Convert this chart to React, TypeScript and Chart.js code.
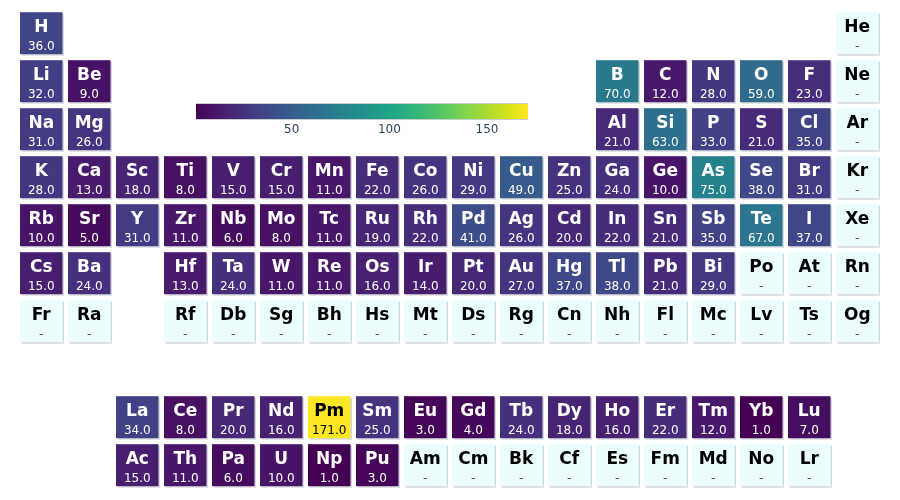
import React, { useEffect, useRef } from "react";
import { Chart, registerables } from "chart.js";

Chart.register(...registerables);

// Symbols per table row ("" = no cell). Row 8 is the spacer row.
const symbolRows: string[][] = [
  ["H", "", "", "", "", "", "", "", "", "", "", "", "", "", "", "", "", "He"],
  ["Li", "Be", "", "", "", "", "", "", "", "", "", "", "B", "C", "N", "O", "F", "Ne"],
  ["Na", "Mg", "", "", "", "", "", "", "", "", "", "", "Al", "Si", "P", "S", "Cl", "Ar"],
  ["K", "Ca", "Sc", "Ti", "V", "Cr", "Mn", "Fe", "Co", "Ni", "Cu", "Zn", "Ga", "Ge", "As", "Se", "Br", "Kr"],
  ["Rb", "Sr", "Y", "Zr", "Nb", "Mo", "Tc", "Ru", "Rh", "Pd", "Ag", "Cd", "In", "Sn", "Sb", "Te", "I", "Xe"],
  ["Cs", "Ba", "", "Hf", "Ta", "W", "Re", "Os", "Ir", "Pt", "Au", "Hg", "Tl", "Pb", "Bi", "Po", "At", "Rn"],
  ["Fr", "Ra", "", "Rf", "Db", "Sg", "Bh", "Hs", "Mt", "Ds", "Rg", "Cn", "Nh", "Fl", "Mc", "Lv", "Ts", "Og"],
  ["", "", "", "", "", "", "", "", "", "", "", "", "", "", "", "", "", ""],
  ["", "", "La", "Ce", "Pr", "Nd", "Pm", "Sm", "Eu", "Gd", "Tb", "Dy", "Ho", "Er", "Tm", "Yb", "Lu", ""],
  ["", "", "Ac", "Th", "Pa", "U", "Np", "Pu", "Am", "Cm", "Bk", "Cf", "Es", "Fm", "Md", "No", "Lr", ""],
];

const N = null;
// Values per table row (null = no value, shown as "-").
const valueRows: (number | null)[][] = [
  [36, N, N, N, N, N, N, N, N, N, N, N, N, N, N, N, N, N],
  [32, 9, N, N, N, N, N, N, N, N, N, N, 70, 12, 28, 59, 23, N],
  [31, 26, N, N, N, N, N, N, N, N, N, N, 21, 63, 33, 21, 35, N],
  [28, 13, 18, 8, 15, 15, 11, 22, 26, 29, 49, 25, 24, 10, 75, 38, 31, N],
  [10, 5, 31, 11, 6, 8, 11, 19, 22, 41, 26, 20, 22, 21, 35, 67, 37, N],
  [15, 24, N, 13, 24, 11, 11, 16, 14, 20, 27, 37, 38, 21, 29, N, N, N],
  [N, N, N, N, N, N, N, N, N, N, N, N, N, N, N, N, N, N],
  [N, N, N, N, N, N, N, N, N, N, N, N, N, N, N, N, N, N],
  [N, N, 34, 8, 20, 16, 171, 25, 3, 4, 24, 18, 16, 22, 12, 1, 7, N],
  [N, N, 15, 11, 6, 10, 1, 3, N, N, N, N, N, N, N, N, N, N],
];

const colorbarTicks = [50, 100, 150];
const zMin = 1;
const zMax = 171;

const viridis: [number, string][] = [
  [0, "#440154"], [0.0627, "#48186a"], [0.1255, "#472d7b"], [0.1882, "#424086"],
  [0.251, "#3b528b"], [0.3137, "#33638d"], [0.3765, "#2c728e"], [0.4392, "#26828e"],
  [0.502, "#21918c"], [0.5647, "#1fa088"], [0.6275, "#28ae80"], [0.6902, "#3fbc73"],
  [0.7529, "#5ec962"], [0.8157, "#84d44b"], [0.8784, "#addc30"], [0.9412, "#d8e219"],
  [1, "#fde725"],
];

function hexToRgb(h: string): number[] {
  return [parseInt(h.slice(1, 3), 16), parseInt(h.slice(3, 5), 16), parseInt(h.slice(5, 7), 16)];
}

function colorFor(v: number): number[] {
  const t = Math.min(1, Math.max(0, (v - zMin) / (zMax - zMin)));
  for (let i = 1; i < viridis.length; i++) {
    if (t <= viridis[i][0]) {
      const [t0, c0] = viridis[i - 1];
      const [t1, c1] = viridis[i];
      const f = (t - t0) / (t1 - t0);
      const a = hexToRgb(c0), b = hexToRgb(c1);
      return [0, 1, 2].map((k) => Math.round(a[k] + (b[k] - a[k]) * f));
    }
  }
  return hexToRgb(viridis[viridis.length - 1][1]);
}

const EMPTY_FILL = "#ecfdfd";

const cellsPlugin = {
  id: "cells",
  afterDatasetsDraw(chart: any) {
    const ctx = chart.ctx as CanvasRenderingContext2D;
    const xs = chart.scales.x;
    const ys = chart.scales.y;
    const pts = chart.data.datasets[0].data as any[];
    const pitchX = Math.abs(xs.getPixelForValue(2) - xs.getPixelForValue(1));
    const pitchY = Math.abs(ys.getPixelForValue(2) - ys.getPixelForValue(1));
    const w = pitchX - 5.5;
    const h = pitchY - 6;
    ctx.save();
    for (const p of pts) {
      const cx = xs.getPixelForValue(p.x);
      const cy = ys.getPixelForValue(p.y);
      const left = cx - pitchX / 2 + 2.5;
      const top = cy - pitchY / 2 + 2.7;
      // shadow
      ctx.fillStyle = "#d6d9dc";
      ctx.fillRect(left + 1.5, top + 1.5, w, h);
      let dark = false;
      if (p.v == null) {
        ctx.fillStyle = EMPTY_FILL;
      } else {
        const c = colorFor(p.v);
        ctx.fillStyle = `rgb(${c[0]},${c[1]},${c[2]})`;
        const lum = (0.299 * c[0] + 0.587 * c[1] + 0.114 * c[2]) / 255;
        dark = lum < 0.55;
      }
      ctx.fillRect(left, top, w, h);
      ctx.textAlign = "center";
      ctx.textBaseline = "middle";
      ctx.fillStyle = dark ? "#ffffff" : "#000000";
      ctx.font = "bold 17px 'DejaVu Sans', Verdana, sans-serif";
      ctx.fillText(p.s, left + w / 2, top + 15.5);
      ctx.font = "12px 'DejaVu Sans', Verdana, sans-serif";
      if (p.v == null) ctx.fillStyle = "#555555";
      ctx.fillText(p.v == null ? "-" : p.v.toFixed(1), left + w / 2, top + 34.5);
    }

    // colorbar
    const area = chart.chartArea;
    const bx0 = area.left + (196 - 17.5);
    const bx1 = area.left + (528 - 17.5);
    const by0 = area.top + (104 - 9.5);
    const bh = 15;
    const grad = ctx.createLinearGradient(bx0, 0, bx1, 0);
    for (const [t, c] of viridis) grad.addColorStop(t, c);
    ctx.fillStyle = grad;
    ctx.fillRect(bx0, by0, bx1 - bx0, bh);
    ctx.strokeStyle = "rgba(160,170,180,0.6)";
    ctx.lineWidth = 1;
    ctx.beginPath();
    ctx.moveTo(bx0, by0 - 0.5);
    ctx.lineTo(bx1, by0 - 0.5);
    ctx.moveTo(bx0, by0 + bh + 0.5);
    ctx.lineTo(bx1, by0 + bh + 0.5);
    ctx.stroke();
    ctx.fillStyle = "#2a3f5f";
    ctx.font = "12px 'DejaVu Sans', Verdana, sans-serif";
    ctx.textAlign = "center";
    ctx.textBaseline = "middle";
    for (const t of colorbarTicks) {
      const px = bx0 + ((t - zMin) / (zMax - zMin)) * (bx1 - bx0);
      ctx.fillText(String(t), px, by0 + bh + 11);
    }
    ctx.restore();
  },
};

export default function App() {
  const ref = useRef<HTMLCanvasElement | null>(null);
  useEffect(() => {
    if (!ref.current) return;
    const pts: any[] = [];
    symbolRows.forEach((row, r) =>
      row.forEach((s, c) => {
        if (s) pts.push({ x: c + 1, y: r + 1, s, v: valueRows[r][c] });
      })
    );
    const chart = new Chart(ref.current, {
      type: "scatter",
      data: { datasets: [{ data: pts, pointRadius: 0, showLine: false }] },
      options: {
        animation: false,
        responsive: false,
        maintainAspectRatio: false,
        layout: { padding: { left: 17.5, right: 18.5, top: 9.5, bottom: 10.5 } },
        plugins: { legend: { display: false }, tooltip: { enabled: false } },
        scales: {
          x: { type: "linear", min: 0.5, max: 18.5, display: false },
          y: { type: "linear", min: 0.5, max: 10.5, reverse: true, display: false },
        },
      },
      plugins: [cellsPlugin],
    });
    return () => chart.destroy();
  }, []);
  return (
    <div style={{ position: "absolute", left: 0, top: 0, width: 900, height: 500, background: "#fff" }}>
      <canvas ref={ref} width={900} height={500} style={{ width: 900, height: 500 }} />
    </div>
  );
}
